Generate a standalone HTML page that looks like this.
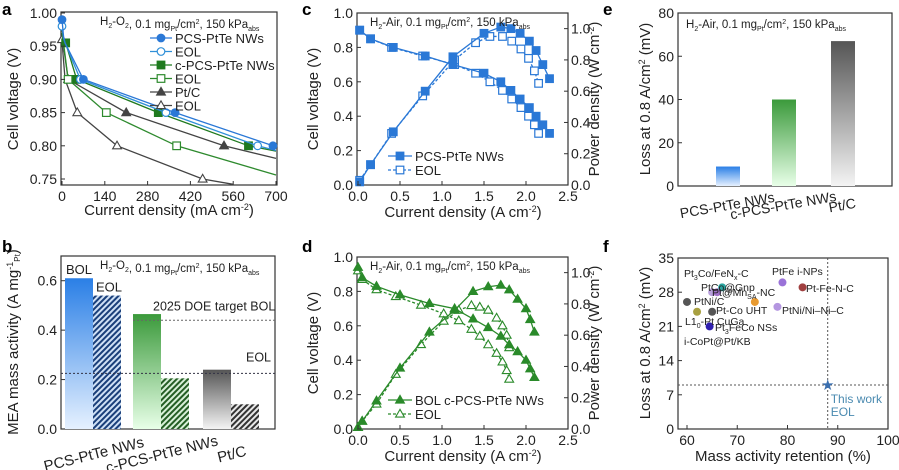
<!DOCTYPE html>
<html><head><meta charset="utf-8"><style>
html,body{margin:0;padding:0;background:#fff;}
svg{display:block;font-family:"Liberation Sans",Arial,sans-serif;}
</style></head><body>
<svg id="fig" width="899" height="470" viewBox="0 0 899 470" xmlns="http://www.w3.org/2000/svg">
<defs>
<linearGradient id="gBlue" x1="0" y1="0" x2="0" y2="1"><stop offset="0" stop-color="#2a7fe6"/><stop offset="1" stop-color="#e6f1ff"/></linearGradient>
<linearGradient id="gGreen" x1="0" y1="0" x2="0" y2="1"><stop offset="0" stop-color="#3b9a3b"/><stop offset="1" stop-color="#e8ffe8"/></linearGradient>
<linearGradient id="gGray" x1="0" y1="0" x2="0" y2="1"><stop offset="0" stop-color="#555"/><stop offset="1" stop-color="#f4f4f4"/></linearGradient>
<pattern id="hBlue" width="4" height="4" patternUnits="userSpaceOnUse" patternTransform="rotate(45)"><rect width="4" height="4" fill="#cfe0f5"/><rect width="2" height="4" fill="#1a3f7a"/></pattern>
<pattern id="hGreen" width="4" height="4" patternUnits="userSpaceOnUse" patternTransform="rotate(45)"><rect width="4" height="4" fill="#d8f0d8"/><rect width="2" height="4" fill="#245e24"/></pattern>
<pattern id="hGray" width="4" height="4" patternUnits="userSpaceOnUse" patternTransform="rotate(45)"><rect width="4" height="4" fill="#e8e8e8"/><rect width="2" height="4" fill="#333"/></pattern>
</defs>
</svg>
<script>
// ---------- data ----------
// panel a (mA cm-2, V)
const aPcsBolX=[0,5,10,70,370,690,700], aPcsBolY=[0.99,0.965,0.955,0.90,0.85,0.80,0.799];
const aPcsEolX=[0,5,10,60,340,640,700], aPcsEolY=[0.98,0.962,0.955,0.90,0.85,0.80,0.793];
const aCpcsBolX=[0,5,12,48,315,610,700], aCpcsBolY=[0.975,0.962,0.955,0.90,0.85,0.80,0.792];
const aCpcsEolX=[0,5,20,145,375,700], aCpcsEolY=[0.97,0.955,0.90,0.85,0.80,0.756];
const aPtcBolX=[0,5,20,210,530,700], aPtcBolY=[0.97,0.95,0.90,0.85,0.80,0.781];
const aPtcEolX=[0,3,10,50,180,460,560], aPtcEolY=[0.96,0.94,0.90,0.85,0.80,0.75,0.742];
const aTicksX=[0,140,280,420,560,700], aTicksY=[0.75,0.80,0.85,0.90,0.95,1.00];
// panel b
const bGroups=["PCS-PtTe NWs","c-PCS-PtTe NWs","Pt/C"];
const bBol=[0.61,0.465,0.24], bEol=[0.54,0.205,0.10];
const bTarget=[0.44,0.225];
const bTicks=[0.0,0.2,0.4,0.6];
// panel c (A cm-2)
const cBolI=[0.02,0.15,0.42,0.8,1.13,1.5,1.7,1.82,1.93,2.04,2.12,2.2,2.28];
const cBolV=[0.9,0.85,0.80,0.75,0.70,0.65,0.60,0.55,0.50,0.45,0.40,0.35,0.30];
const cBolP=[0.02,0.13,0.34,0.60,0.82,0.97,1.01,1.0,0.97,0.92,0.86,0.77,0.68];
const cEolI=[0.02,0.15,0.40,0.77,1.15,1.4,1.57,1.72,1.83,1.94,2.03,2.1,2.15];
const cEolV=[0.9,0.85,0.80,0.75,0.70,0.65,0.60,0.55,0.50,0.45,0.40,0.35,0.30];
const cEolP=[0.03,0.13,0.33,0.57,0.80,0.91,0.95,0.95,0.92,0.87,0.81,0.73,0.65];
// panel d
const dBolI=[0.0,0.05,0.22,0.5,0.85,1.15,1.37,1.55,1.7,1.8,1.9,2.0,2.05,2.1];
const dBolV=[0.94,0.88,0.83,0.78,0.73,0.70,0.64,0.59,0.54,0.49,0.45,0.40,0.35,0.30];
const dBolP=[0.01,0.05,0.18,0.39,0.62,0.76,0.88,0.91,0.92,0.89,0.83,0.77,0.70,0.62];
const dEolI=[0.0,0.05,0.22,0.45,0.75,1.02,1.2,1.35,1.45,1.55,1.65,1.72,1.77,1.8];
const dEolV=[0.92,0.87,0.81,0.77,0.72,0.67,0.63,0.58,0.54,0.49,0.44,0.39,0.34,0.29];
const dEolP=[0.01,0.05,0.16,0.35,0.54,0.69,0.76,0.79,0.78,0.76,0.71,0.66,0.60,0.52];
const cdTicksX=[0.0,0.5,1.0,1.5,2.0,2.5], cdTicksY=[0.0,0.2,0.4,0.6,0.8,1.0], cdTicksP=[0.0,0.2,0.4,0.6,0.8,1.0];
// panel e
const eCats=["PCS-PtTe NWs","c-PCS-PtTe NWs","Pt/C"];
const eVals=[9,40,67];
const eTicks=[0,20,40,60,80];
// panel f
const fNames=["Pt₃Co/FeNₓ-C","Pt@Mn_SA-NC","PtCo@Gnp","PtFe i-NPs","Pt-Fe-N-C","PtNi/C","Mn-SA","Pt-Co UHT","L1₀-PtCuGa","PtNi/Ni–N–C","Pt₃FeCo NSs"];
const fX=[65,66,67,79,83,60,73.5,65,62,78,64.5];
const fY=[28,28,29,30,29,26,26,24,24,25,21];
const fColors=["#b9a0dd","#a070c8","#2aa5a0","#9a72d8","#a04040","#555","#e89a30","#555","#a8a040","#b496e0","#3020b0"];
const fWorkX=[88], fWorkY=[9];
const fTicksX=[60,70,80,90,100], fTicksY=[0,7,14,21,28,35];

// ---------- helpers ----------
const svg=document.getElementById('fig');
const NS='http://www.w3.org/2000/svg';
function mk(tag,attrs,parent){const e=document.createElementNS(NS,tag);for(const k in attrs)e.setAttribute(k,attrs[k]);(parent||svg).appendChild(e);return e;}
function txt(x,y,s,size,anchor,parent,extra){const t=mk('text',Object.assign({x:x,y:y,'font-size':size,'text-anchor':anchor||'start',fill:'#222'},extra||{}),parent);t.innerHTML=s;return t;}
function lin(d0,d1,p0,p1){return v=>p0+(v-d0)/(d1-d0)*(p1-p0);}
function frame(L,T,R,B,name){const g=mk('g',{});
 mk('rect',{x:L,y:T,width:R-L,height:B-T,fill:'none',stroke:'#333','stroke-width':1.2},g);return g;}
function xticks(g,ticks,sx,B,fmt,size){ticks.forEach(t=>{const x=sx(t);mk('line',{x1:x,y1:B,x2:x,y2:B-4,stroke:'#333'},g);const l=txt(x,B+16,fmt(t),size||14,'middle',g);});}
function yticks(g,ticks,sy,L,fmt,size){ticks.forEach(t=>{const y=sy(t);mk('line',{x1:L,y1:y,x2:L+4,y2:y,stroke:'#333'},g);const l=txt(L-4,y+5,fmt(t),size||14,'end',g);});}
function ytR(g,ticks,sy,R,fmt){ticks.forEach(t=>{const y=sy(t);mk('line',{x1:R,y1:y,x2:R-4,y2:y,stroke:'#333'},g);const l=txt(R+3,y+5,fmt(t),14,'start',g);});}
function marker(g,x,y,shape,col,filled,s){s=s||3.8;const f=filled?col:'#fff';
 if(shape==='c')return mk('circle',{cx:x,cy:y,r:s,fill:f,stroke:col,'stroke-width':1.2},g);
 if(shape==='s')return mk('rect',{x:x-s,y:y-s,width:2*s,height:2*s,fill:f,stroke:col,'stroke-width':1.2},g);
 return mk('polygon',{points:`${x},${y-s-0.8} ${x-s-0.6},${y+s*0.8} ${x+s+0.6},${y+s*0.8}`,fill:f,stroke:col,'stroke-width':1.1},g);}
function series(g,X,Y,sx,sy,col,shape,filled,dash,mIdx,name){const sg=mk('g',{},g);
 mk('polyline',{points:X.map((x,i)=>sx(x)+','+sy(Y[i])).join(' '),fill:'none',stroke:col,'stroke-width':1.3,'stroke-dasharray':dash||'none'},sg);
 X.forEach((x,i)=>{if(!mIdx||mIdx(i,X.length)){const m=marker(sg,sx(x),sy(Y[i]),shape,col,filled);}});}
function panelLetter(x,y,s){const t=txt(x,y,s,17,'start',svg,{'font-weight':'bold',fill:'#000'});}
function condition(g,x,y,gas){const t=txt(x,y,'',11.5,'start',g);t.innerHTML=`H<tspan font-size="7" dy="3">2</tspan><tspan dy="-3">-${gas}</tspan>, 0.1 mg<tspan font-size="7" dy="3">Pt</tspan><tspan dy="-3">/cm</tspan><tspan font-size="7" dy="-4">2</tspan><tspan dy="4">, 150 kPa</tspan><tspan font-size="7" dy="3">abs</tspan>`;}
function label(x,y,s,rot,name){const t=txt(x,y,s,15,'middle',svg,rot?{transform:`rotate(-90 ${x} ${y})`}:{});return t;}
const f2=v=>v.toFixed(2), f1=v=>v.toFixed(1);

// ---------- panel a ----------
{const L=61,R=277,T=12,B=185;const g=frame(L,T,R,B,'panel-a');
 const sx=lin(0,700,62,276), sy=lin(0.75,1.0,179,13);
 const cg=mk('g',{'clip-path':'url(#clipA)'},g);mk('clipPath',{id:'clipA'},svg).appendChild(Object.assign(document.createElementNS(NS,'rect'),{}));
 const cp=svg.querySelector('#clipA rect');cp.setAttribute('x',L-6);cp.setAttribute('y',T-6);cp.setAttribute('width',R-L+12);cp.setAttribute('height',B-T+6);
 series(cg,aPtcEolX,aPtcEolY,sx,sy,'#444','t',false,null,(i,n)=>[0,3,4,5].includes(i),'series-ptc-eol');
 series(cg,aPtcBolX,aPtcBolY,sx,sy,'#444','t',true,null,(i,n)=>i>=2&&i<n-1,'series-ptc-bol');
 series(cg,aCpcsEolX,aCpcsEolY,sx,sy,'#2e8a2e','s',false,null,(i,n)=>i>=2&&i<n-1,'series-cpcs-eol');
 series(cg,aCpcsBolX,aCpcsBolY,sx,sy,'#1f7a1f','s',true,null,(i,n)=>i>=2&&i<n-1,'series-cpcs-bol');
 series(cg,aPcsEolX,aPcsEolY,sx,sy,'#2f8fd8','c',false,null,(i,n)=>[0,3,4,5].includes(i),'series-pcs-eol');
 series(cg,aPcsBolX,aPcsBolY,sx,sy,'#2a78d6','c',true,null,(i,n)=>[0,3,4,5].includes(i),'series-pcs-bol');
 xticks(g,aTicksX,sx,B,v=>String(v));yticks(g,aTicksY,sy,L,f2);
 condition(g,100,25,'O<tspan font-size="7" dy="3">2</tspan><tspan dy="-3"></tspan>');
 const lg=mk('g',{},g);
 [['PCS-PtTe NWs','#2a78d6','c',true],['EOL','#2f8fd8','c',false],['c-PCS-PtTe NWs','#1f7a1f','s',true],['EOL','#2e8a2e','s',false],['Pt/C','#444','t',true],['EOL','#444','t',false]].forEach((e,i)=>{const y=38+i*13.5;
  const eg=mk('g',{},lg);
  mk('line',{x1:150,y1:y,x2:172,y2:y,stroke:e[1],'stroke-width':1.3},eg);marker(eg,161,y,e[2],e[1],e[3]);txt(175,y+5,e[0],13,'start',eg);});
 label(18,99,'Cell voltage (V)',true,'y-axis-title-a');label(169,215,'Current density (mA cm<tspan font-size="9" dy="-5">-2</tspan><tspan dy="5">)</tspan>',false,'x-axis-title-a');
}
panelLetter(2,15,'a');

// ---------- panel c / d helper ----------
function ivPanel(T,B,name,clr,bolI,bolV,bolP,eolI,eolV,eolP,shape,legend1,cid){
 const L=357,R=568;const g=frame(L,T,R,B,name);
 const sx=lin(0,2.5,358,568), sy=lin(0,1.0,B,T), sp=lin(0,1.1,B,T);
 series(g,eolI,eolV,sx,sy,clr,shape,false,'3,2',null,'series-eol-voltage');
 series(g,eolI,eolP,sx,sp,clr,shape,false,'3,2',null,'series-eol-power');
 series(g,bolI,bolV,sx,sy,clr,shape,true,null,null,'series-bol-voltage');
 series(g,bolI,bolP,sx,sp,clr,shape,true,null,null,'series-bol-power');
 xticks(g,cdTicksX,sx,B,f1);yticks(g,cdTicksY,sy,L,f1);ytR(g,cdTicksP,sp,R,f1);
 condition(g,370,T+13,'Air');
 const lg=mk('g',{},g);
 [[legend1,true,null],['EOL',false,'3,2']].forEach((e,i)=>{const y=B-29+i*14;const eg=mk('g',{},lg);
  mk('line',{x1:388,y1:y,x2:412,y2:y,stroke:clr,'stroke-width':1.3,'stroke-dasharray':e[2]||'none'},eg);marker(eg,400,y,shape,clr,e[1]);txt(415,y+5,e[0],13,'start',eg);});
 label(318,(T+B)/2,'Cell voltage (V)',true,'y-axis-title-'+cid);
 label(463,B+32,'Current density (A cm<tspan font-size="9" dy="-5">-2</tspan><tspan dy="5">)</tspan>',false,'x-axis-title-'+cid);
 label(599,(T+B)/2,'Power density (W cm<tspan font-size="9" dy="-5">-2</tspan><tspan dy="5">)</tspan>',true,'y2-axis-title-'+cid);
}
ivPanel(13,185,'panel-c','#2a78d6',cBolI,cBolV,cBolP,cEolI,cEolV,cEolP,'s','PCS-PtTe NWs','c');
panelLetter(302,15,'c');
ivPanel(257,429,'panel-d','#2a8a2a',dBolI,dBolV,dBolP,dEolI,dEolV,dEolP,'t','BOL c-PCS-PtTe NWs','d');
panelLetter(302,252,'d');

// ---------- panel b ----------
{const L=61,R=275,T=256,B=429;const g=frame(L,T,R,B,'panel-b');
 const sy=lin(0,0.7,B,T);const x0=[65,133,203], w=28;
 const fills=[['url(#gBlue)','url(#hBlue)'],['url(#gGreen)','url(#hGreen)'],['url(#gGray)','url(#hGray)']];
 bGroups.forEach((n,i)=>{const r1=mk('rect',{x:x0[i],y:sy(bBol[i]),width:w,height:B-sy(bBol[i]),fill:fills[i][0]},g);
  const r2=mk('rect',{x:x0[i]+w,y:sy(bEol[i]),width:w,height:B-sy(bEol[i]),fill:fills[i][1]},g);
  const t=txt(x0[i]+w+2,B+30,n,15,'middle',g,{transform:`rotate(-14 ${x0[i]+w+2} ${B+30})`});});
 const l1=mk('line',{x1:133,y1:sy(bTarget[0]),x2:R,y2:sy(bTarget[0]),stroke:'#666','stroke-dasharray':'2,2'},g);
 const l2=mk('line',{x1:L,y1:sy(bTarget[1]),x2:R,y2:sy(bTarget[1]),stroke:'#334','stroke-dasharray':'2,2'},g);
 txt(153,sy(bTarget[0])-10,'2025 DOE target BOL',12.5,'start',g);txt(246,sy(bTarget[1])-12,'EOL',12.5,'start',g);
 txt(66,sy(bBol[0])-4,'BOL',13,'start',g);txt(96,sy(bEol[0])-4,'EOL',13,'start',g);
 yticks(g,bTicks,sy,L,f1);condition(g,100,269,'O<tspan font-size="7" dy="3">2</tspan><tspan dy="-3"></tspan>');
 label(18,342,'MEA mass activity (A mg<tspan font-size="9" dy="-5">-1</tspan><tspan font-size="8" dy="7">Pt</tspan><tspan dy="-2">)</tspan>',true,'y-axis-title-b');
}
panelLetter(2,252,'b');

// ---------- panel e ----------
{const L=678,R=892,T=13,B=186;const g=frame(L,T,R,B,'panel-e');
 const sy=lin(0,80,B,T);const cx=[728,784,843],w=24;const fl=['url(#gBlue)','url(#gGreen)','url(#gGray)'];
 eCats.forEach((n,i)=>{const r=mk('rect',{x:cx[i]-w/2,y:sy(eVals[i]),width:w,height:B-sy(eVals[i]),fill:fl[i]},g);
  const t=txt(cx[i],B+24,n,14,'middle',g,{transform:`rotate(-10 ${cx[i]} ${B+24})`});});
 yticks(g,eTicks,sy,L,v=>String(v));condition(g,686,28,'Air');
 label(650,99,'Loss at 0.8 A/cm<tspan font-size="9" dy="-5">2</tspan><tspan dy="5"> (mV)</tspan>',true,'y-axis-title-e');
}
panelLetter(603,15,'e');

// ---------- panel f ----------
{const L=678,R=888,T=258,B=429;const g=frame(L,T,R,B,'panel-f');
 const sx=lin(60,100,687,888), sy=lin(0,35,B,T);
 mk('line',{x1:sx(fWorkX[0]),y1:T,x2:sx(fWorkX[0]),y2:B,stroke:'#555','stroke-dasharray':'2,2'},g);
 mk('line',{x1:L,y1:sy(fWorkY[0]),x2:R,y2:sy(fWorkY[0]),stroke:'#555','stroke-dasharray':'2,2'},g);
 fX.forEach((x,i)=>{const c=mk('circle',{cx:sx(x),cy:sy(fY[i]),r:4,fill:fColors[i]},g);});
 const st=txt(sx(fWorkX[0]),sy(fWorkY[0])+5,'★',15,'middle',g,{fill:'#3a6fb0'});
 txt(sx(fWorkX[0])+3,sy(fWorkY[0])+18,'This work',12,'start',g,{fill:'#4a8ab0'});txt(sx(fWorkX[0])+3,sy(fWorkY[0])+31,'EOL',12,'start',g,{fill:'#4a8ab0'});
 const fs=10.5;
 txt(684,277,'Pt<tspan font-size="7" dy="3">3</tspan><tspan dy="-3">Co/FeN</tspan><tspan font-size="7" dy="3">x</tspan><tspan dy="-3">-C</tspan>',fs,'start',g);
 txt(701,291,'PtCo@Gnp',fs,'start',g);txt(712,296,'Pt@Mn<tspan font-size="7" dy="3">SA</tspan><tspan dy="-3">-NC</tspan>',fs,'start',g);
 txt(772,275,'PtFe i-NPs',fs,'start',g);txt(806,292,'Pt-Fe-N-C',fs,'start',g);
 txt(694,305,'PtNi/C',fs,'start',g);txt(716,314,'Pt-Co UHT',fs,'start',g);txt(782,314,'PtNi/Ni–Ni–C',fs,'start',g);
 txt(685,325,'L1<tspan font-size="7" dy="3">0</tspan><tspan dy="-3">-Pt CuGa</tspan>',fs,'start',g);
 txt(715,331,'Pt<tspan font-size="7" dy="3">3</tspan><tspan dy="-3">FeCo NSs</tspan>',fs,'start',g);
 txt(684,345,'i-CoPt@Pt/KB',fs,'start',g);
 xticks(g,fTicksX,sx,B,v=>String(v));yticks(g,fTicksY,sy,L,v=>String(v));
 label(650,343,'Loss at 0.8 A/cm<tspan font-size="9" dy="-5">2</tspan><tspan dy="5"> (mV)</tspan>',true,'y-axis-title-f');
 label(783,461,'Mass activity retention (%)',false,'x-axis-title-f');
}
panelLetter(603,252,'f');
</script>
</body></html>
